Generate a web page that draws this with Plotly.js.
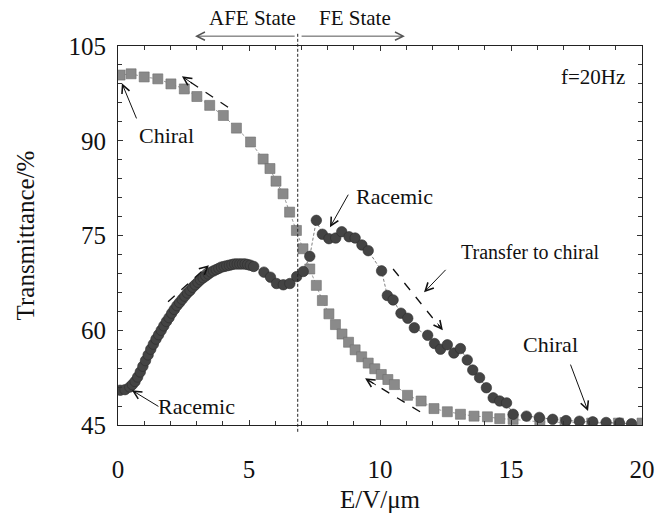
<!DOCTYPE html>
<html>
<head>
<meta charset="utf-8">
<script src="https://cdn.plot.ly/plotly-3.0.1.min.js"></script>
<style>html,body{margin:0;padding:0;background:#fff;}</style>
</head>
<body>
<div id="chart" style="width:658px;height:517px;"></div>
<script>
// Chiral (squares)
const chiralE = [0.08,0.5,1.0,1.52,2.02,2.53,3.01,3.5,4.02,4.52,5.06,5.54,5.8,6.03,6.3,6.55,6.81,7.06,7.32,7.57,7.8,8.05,8.3,8.55,8.8,9.05,9.3,9.55,9.8,10.05,10.3,10.55,11.05,11.57,12.06,12.57,13.07,13.59,14.1,14.57,15.08,16.1,17.06,18.08,19.1,20.0];
const chiralT = [100.4,100.6,100.1,99.8,99.0,98.2,97.0,95.6,94.0,92.0,89.8,87.1,85.6,83.6,81.6,78.7,75.8,72.9,69.7,67.1,64.7,62.6,60.9,59.4,58.1,56.9,55.8,54.8,53.9,53.0,52.2,51.4,49.7,48.8,47.6,47.1,46.7,46.4,46.3,46.0,45.9,45.5,45.4,45.3,45.3,45.3];

// Racemic (circles)
const racemicE = [0.08,0.27,0.45,0.55,0.65,0.75,0.85,0.95,1.05,1.15,1.25,1.35,1.45,1.55,1.65,1.75,1.85,1.95,2.05,2.15,2.25,2.35,2.45,2.55,2.65,2.75,2.85,2.95,3.05,3.15,3.25,3.35,3.45,3.55,3.65,3.75,3.85,3.95,4.05,4.15,4.25,4.35,4.45,4.55,4.65,4.75,4.85,4.95,5.05,5.18,5.57,5.82,6.05,6.31,6.56,6.82,7.07,7.32,7.57,7.8,8.05,8.31,8.54,8.82,9.05,9.31,9.55,10.06,10.28,10.5,10.8,11.06,11.31,11.82,12.08,12.31,12.57,12.82,13.07,13.33,13.54,13.8,14.06,14.32,14.57,14.83,15.08,15.59,16.08,16.59,17.1,17.61,18.12,18.63,19.14,19.6];
const racemicT = [50.5,50.6,51.0,51.4,51.9,52.6,53.4,54.3,55.2,56.1,57.0,57.8,58.6,59.3,60.0,60.7,61.4,62.0,62.7,63.3,63.9,64.4,64.9,65.4,65.9,66.3,66.8,67.2,67.6,68.0,68.3,68.6,68.9,69.2,69.4,69.6,69.8,70.0,70.1,70.2,70.3,70.4,70.5,70.5,70.5,70.5,70.5,70.4,70.3,70.1,69.2,68.4,67.4,67.2,67.4,68.5,69.3,71.7,77.4,75.2,74.5,74.6,75.6,74.8,74.6,73.5,72.6,69.4,65.5,64.8,62.7,61.9,60.4,59.2,57.9,57.0,57.7,56.4,57.1,55.3,53.7,52.5,50.9,49.3,48.8,48.5,46.7,46.4,46.2,45.9,45.7,45.6,45.5,45.4,45.3,45.2];

const xTickVals = [0,5,10,15,20];
const yTickVals = [45,60,75,90,105];
const boundaryE = 6.86;

const serif = '"Liberation Serif", "Times New Roman", serif';

const traces = [
  {x: chiralE, y: chiralT, type:'scatter', mode:'lines+markers',
   line:{color:'#9a9a9a', width:1, dash:'3px,2px'},
   marker:{symbol:'square', size:10, color:'#8a8a8a', line:{color:'#6e6e6e', width:0.6}}},
  {x: racemicE, y: racemicT, type:'scatter', mode:'lines+markers',
   line:{color:'#808080', width:1, dash:'3px,2px'},
   marker:{symbol:'circle', size:10.5, color:'#444444', line:{color:'#2e2e2e', width:0.6}}}
];

function txt(x, y, text, size, xref, yref) {
  return {x, y, xref: xref||'x', yref: yref||'y', text, showarrow:false,
          xanchor:'center', yanchor:'middle',
          font:{family:serif, size, color:'#111'}};
}
function arr(x, y, ax, ay, opts) {
  return Object.assign({x, y, ax, ay, xref:'x', yref:'y', axref:'x', ayref:'y', text:'',
          showarrow:true, arrowhead:5, arrowsize:1.6, arrowwidth:1, arrowcolor:'#111', standoff:0, startstandoff:0}, opts||{});
}

const annotations = [
  txt(5.15, 1.074, 'AFE State', 21, 'x', 'paper'),
  txt(9.05, 1.074, 'FE State', 21, 'x', 'paper'),
  arr(2.94, 1.026, 6.8, 1.026, {yref:'paper', ayref:'paper', arrowcolor:'#555'}),
  arr(10.95, 1.026, 6.95, 1.026, {yref:'paper', ayref:'paper', arrowcolor:'#555'}),
  txt(18.13, 100.1, 'f=20Hz', 21),
  txt(1.87, 90.9, 'Chiral', 22),
  arr(0.15, 99.1, 0.73, 93.3),
  txt(10.57, 81.1, 'Racemic', 22),
  arr(8.09, 76.3, 8.82, 81.7),
  txt(15.73, 72.4, 'Transfer to chiral', 20),
  arr(11.68, 66.0, 12.56, 69.8),
  txt(2.98, 48.0, 'Racemic', 22),
  arr(0.53, 50.5, 1.6, 47.8),
  txt(16.5, 57.7, 'Chiral', 22),
  arr(17.94, 47.2, 17.25, 54.8),
  // heads of dashed arrows
  arr(2.44, 100.2, 2.9, 98.9),
  arr(3.47, 70.3, 3.1, 68.9),
  arr(12.4, 60.0, 12.15, 61.3),
  arr(9.43, 52.4, 9.9, 51.2)
];

const dash = {color:'#111', width:1.3, dash:'dash'};
const shapes = [
  {type:'line', xref:'x', yref:'paper', x0:boundaryE, x1:boundaryE, y0:-0.018, y1:1.035, line:{color:'#222', width:1, dash:'3px,2px'}},
  {type:'line', xref:'x', yref:'y', x0:4.2, y0:95.3, x1:2.5, y1:100.0, line:dash},
  {type:'line', xref:'x', yref:'y', x0:1.91, y0:64.5, x1:3.4, y1:70.1, line:dash},
  {type:'line', xref:'x', yref:'y', x0:10.5, y0:69.7, x1:12.35, y1:60.2, line:dash},
  {type:'line', xref:'x', yref:'y', x0:11.53, y0:47.1, x1:9.5, y1:52.2, line:dash}
];

const layout = {
  width:658, height:517,
  margin:{l:118, r:16, t:46, b:92},
  paper_bgcolor:'#fff', plot_bgcolor:'#fff',
  showlegend:false,
  font:{family:serif, color:'#111'},
  xaxis:{range:[0,20], tickvals:xTickVals, ticks:'inside', ticklen:5, tickcolor:'#333',
         showline:true, linecolor:'#222', linewidth:1, mirror:'ticks',
         showgrid:false, zeroline:false,
         minor:{dtick:1, tick0:0, ticks:'inside', ticklen:4, tickcolor:'#333', showgrid:false},
         tickfont:{family:serif, size:25, color:'#111'}, ticklabelstandoff:22,
         title:{text:'E/V/μm', font:{family:serif, size:25, color:'#111'}, standoff:8}},
  yaxis:{range:[45,105], tickvals:yTickVals, ticks:'inside', ticklen:5, tickcolor:'#333',
         showline:true, linecolor:'#222', linewidth:1, mirror:'ticks',
         showgrid:false, zeroline:false,
         minor:{dtick:3, tick0:45, ticks:'inside', ticklen:4, tickcolor:'#333', showgrid:false},
         tickfont:{family:serif, size:25, color:'#111'}, ticklabelstandoff:6,
         title:{text:'Transmittance/%', font:{family:serif, size:25, color:'#111'}, standoff:26}},
  annotations, shapes
};

Plotly.newPlot('chart', traces, layout, {displayModeBar:false, staticPlot:true});
</script>
</body>
</html>
